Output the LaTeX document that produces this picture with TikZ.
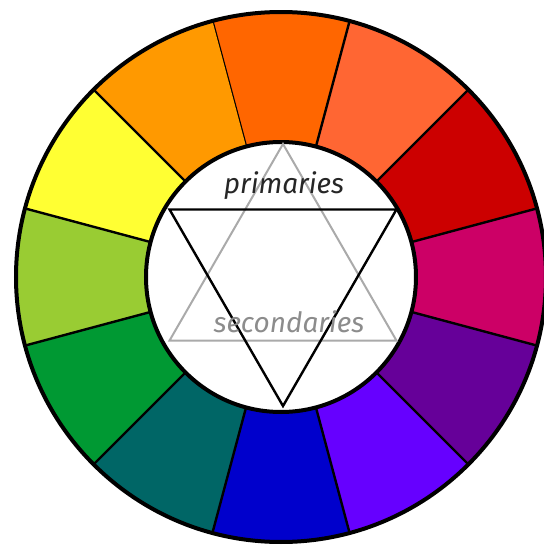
\documentclass[tikz,border=0pt]{standalone}
\usepackage{fontspec}
\setsansfont{Fira Sans}
\usepackage{tikz}
\tikzset{every node/.style={font=\sffamily\itshape},line cap=round,line join=round}

\definecolor{hueA}{HTML}{FF6600}
\definecolor{hueB}{HTML}{FF6633}
\definecolor{hueC}{HTML}{CC0000}
\definecolor{hueD}{HTML}{CC0066}
\definecolor{hueE}{HTML}{660099}
\definecolor{hueF}{HTML}{6600FF}
\definecolor{hueG}{HTML}{0000CC}
\definecolor{hueH}{HTML}{006666}
\definecolor{hueI}{HTML}{009933}
\definecolor{hueJ}{HTML}{99CC33}
\definecolor{hueK}{HTML}{FFFF33}
\definecolor{hueL}{HTML}{FF9900}
\definecolor{starGray}{HTML}{AAAAAA}

\begin{document}
\begin{tikzpicture}[x=0.5pt,y=0.5pt]
  \path[use as bounding box] (0,0) rectangle (544,554);
  % colour ring
  \begin{scope}[shift={(281,277)}]
    \foreach \a/\c in {90/hueA,60/hueB,30/hueC,0/hueD,-30/hueE,-60/hueF,
                       -90/hueG,-120/hueH,-150/hueI,180/hueJ,150/hueK,120/hueL}{
      \fill[\c] ({\a-15}:135) -- ({\a-15}:265)
        arc[start angle=\a-15,end angle=\a+15,radius=265]
        -- ({\a+15}:135) arc[start angle=\a+15,end angle=\a-15,radius=135] -- cycle;
      \draw[line width=1.2pt] ({\a+15}:135) -- ({\a+15}:265);
    }
    \draw[line width=2pt] (0,0) circle[radius=265];
    \draw[line width=2pt,fill=white] (0,0) circle[radius=135];
  \end{scope}
  % star
  \begin{scope}[shift={(283,279)}]
    \draw[starGray,line width=1pt] (90:131) -- (210:131) -- (330:131) -- cycle;
    \draw[line width=1.2pt] (270:131) -- (30:131) -- (150:131) -- cycle;
  \end{scope}
  \node[anchor=base,font=\sffamily\itshape\fontsize{14}{14}\selectfont,text=black!85] (prim) at (284,361) {primaries};
  \node[anchor=base,font=\sffamily\itshape\fontsize{14}{14}\selectfont,text=black!45] (sec) at (289,222) {secondaries};
\end{tikzpicture}
\end{document}
